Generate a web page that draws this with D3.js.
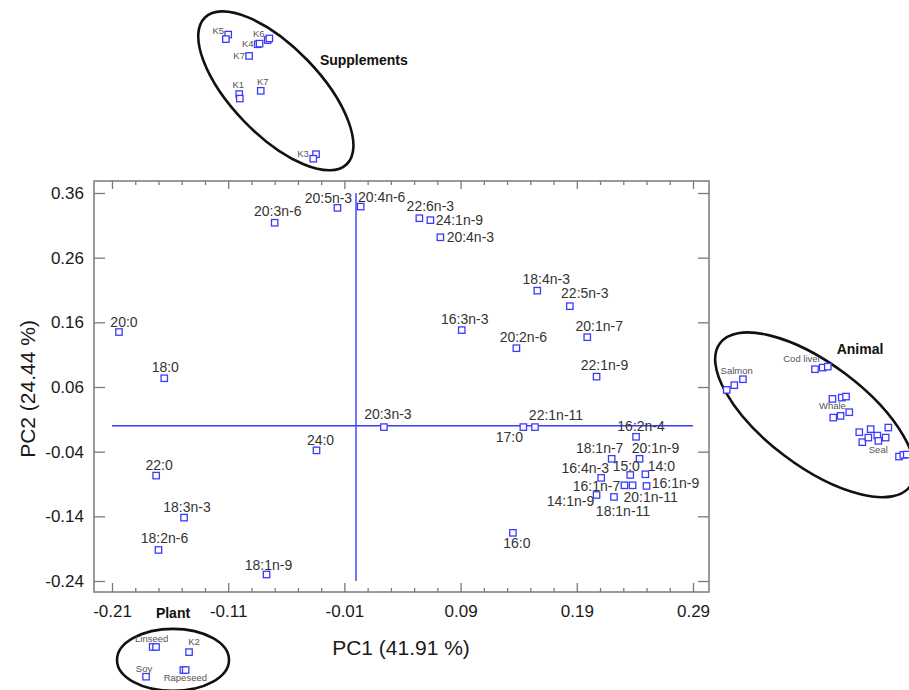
<!DOCTYPE html>
<html>
<head>
<meta charset="utf-8">
<script src="https://cdn.jsdelivr.net/npm/d3@7"></script>
<style>
  body { margin: 0; background: #fff; }
  svg { display: block; font-family: "Liberation Sans", Arial, sans-serif; }
</style>
</head>
<body>
<svg id="chart" width="909" height="690"></svg>
<script>
// fatty acid loadings
var acids = ["20:3n-6","20:5n-3","20:4n-6","20:0","18:0","22:6n-3","24:1n-9","20:4n-3","18:4n-3","22:5n-3",
  "16:3n-3","20:2n-6","20:1n-7","22:1n-9","20:3n-3","24:0","22:0","18:3n-3","18:2n-6","18:1n-9",
  "17:0","22:1n-11","16:2n-4","18:1n-7","20:1n-9","16:4n-3","15:0","14:0","16:1n-7","20:1n-11",
  "16:1n-9","14:1n-9","18:1n-11","16:0"];
var acidPC1 = [-0.070,-0.016,0.004,-0.204,-0.165,0.0545,0.064,0.0726,0.156,0.184,
  0.091,0.138,0.199,0.207,0.024,-0.034,-0.172,-0.148,-0.170,-0.077,
  0.144,0.154,0.241,0.220,0.244,0.211,0.236,0.249,0.231,0.238,
  0.250,0.207,0.222,0.135];
var acidPC2 = [0.314,0.337,0.339,0.145,0.0735,0.321,0.318,0.2915,0.209,0.185,
  0.148,0.120,0.137,0.076,-0.002,-0.038,-0.077,-0.142,-0.192,-0.230,
  -0.002,-0.002,-0.017,-0.051,-0.051,-0.0805,-0.076,-0.075,-0.092,-0.092,
  -0.093,-0.107,-0.110,-0.1655];

// sample scores (oils), same axes
var suppNames = ["K5","K5","K6","K6","K4","K4","K7","K1","K1","K7b","K3","K3"];
var suppPC1 = [-0.110,-0.112,-0.076,-0.0746,-0.0846,-0.083,-0.092,-0.1005,-0.100,-0.082,-0.0344,-0.0368];
var suppPC2 = [0.605,0.598,0.5965,0.599,0.590,0.591,0.572,0.513,0.506,0.518,0.420,0.413];

var animalNames = ["Salmon","Salmon","Salmon","Cod liver","Cod liver","Cod liver",
  "Whale","Whale","Whale","Whale","Whale","Whale",
  "Seal","Seal","Seal","Seal","Seal","Seal","Seal","Seal","Seal","Seal","Seal"];
var animalPC1 = [0.319,0.3255,0.333,0.395,0.4016,0.406,
  0.410,0.418,0.4217,0.4245,0.417,0.4107,
  0.4331,0.4429,0.4581,0.4357,0.4409,0.4486,0.4495,0.4558,0.4673,0.471,0.4739];
var animalPC2 = [0.0555,0.0628,0.072,0.0875,0.090,0.0915,
  0.0416,0.0436,0.0452,0.021,0.0153,0.0127,
  -0.0099,-0.0052,-0.0027,-0.0253,-0.0182,-0.0151,-0.0233,-0.0182,-0.0476,-0.045,-0.0445];

var plantNames = ["Linseed","Linseed","K2","Soy","Rapeseed","Rapeseed"];
var plantPC1 = [-0.175,-0.1721,-0.1437,-0.1807,-0.1486,-0.1466];
var plantPC2 = [-0.342,-0.342,-0.350,-0.388,-0.3777,-0.3777];

var groupTitles = ["Supplements","Animal","Plant"];
var groupCx = [-0.069,0.395,-0.1575];
var groupCy = [0.518,0.017,-0.362];

var xTicks = [-0.21,-0.11,-0.01,0.09,0.19,0.29];
var yTicks = [0.36,0.26,0.16,0.06,-0.04,-0.14,-0.24];

// ---- layout
var svg = d3.select("#chart");
var frame = {left: 94, top: 181, right: 709, bottom: 592};
var x = d3.scaleLinear().domain([-0.21, 0.29]).range([112, 693]);
var y = d3.scaleLinear().domain([-0.24, 0.36]).range([581, 193]);
var blue = "#3a3aff";
var tickColor = "#7a7a7a";
var fmt = function (d) { return d3.format(".2f")(d).replace("−", "-"); };

// label offsets [dx, dy] from the marker centre
var labelOffset = {
  "20:3n-6":[3,-7], "20:5n-3":[-9,-5], "20:4n-6":[21,-5], "20:0":[5,-5], "18:0":[1,-6],
  "22:6n-3":[11,-7], "24:1n-9":[29,5], "20:4n-3":[30,5], "18:4n-3":[9,-7], "22:5n-3":[15,-8],
  "16:3n-3":[3,-6], "20:2n-6":[7,-6], "20:1n-7":[12,-6], "22:1n-9":[8,-7], "20:3n-3":[4,-8],
  "24:0":[4,-5], "22:0":[3,-6], "18:3n-3":[3,-6], "18:2n-6":[6,-7], "18:1n-9":[2,-5],
  "17:0":[-14,15], "22:1n-11":[21,-7], "16:2n-4":[5,-6], "18:1n-7":[-12,-6], "20:1n-9":[16,-6],
  "16:4n-3":[-16,-5], "15:0":[-4,-4], "14:0":[16,-3], "16:1n-7":[-28,6], "20:1n-11":[18,17],
  "16:1n-9":[29,2], "14:1n-9":[-26,11], "18:1n-11":[9,19], "16:0":[4,15]
};
var sampleOffset = {
  "K5":[-10,-1], "K6":[-9,-3], "K4":[-10,3], "K7":[-10,3], "K1":[-1,-6], "K7b":[2,-6], "K3":[-13,3],
  "Salmon":[10,-16], "Cod liver":[-13,-7], "Whale":[0,10], "Seal":[19,21],
  "Linseed":[-1,-5], "K2":[5,-7], "Soy":[-2,-5], "Rapeseed":[2,11]
};
// ellipse shapes in px: [rx, ry, rotation], title offset from centre
var groupShape = [[102, 44, 46], [119, 51, 37], [56, 31, 0]];
var titleOffset = [[88, -26], [45, -61], [0, -42]];

// ---- frame and axes
svg.append("rect")
  .attr("x", frame.left).attr("y", frame.top)
  .attr("width", frame.right - frame.left).attr("height", frame.bottom - frame.top)
  .attr("fill", "none").attr("stroke", tickColor).attr("stroke-width", 1.5);

var minorX = d3.range(-0.21, 0.2901, 0.02).filter(function (v) {
  return xTicks.every(function (t) { return Math.abs(t - v) > 1e-6; });
});

svg.append("g").attr("transform", "translate(0," + frame.bottom + ")")
  .call(d3.axisBottom(x).tickValues(xTicks).tickSize(-9).tickPadding(13).tickFormat(fmt));
svg.append("g").attr("transform", "translate(0," + frame.bottom + ")")
  .call(d3.axisBottom(x).tickValues(minorX).tickSize(-4).tickFormat(""));
svg.append("g").attr("transform", "translate(0," + frame.top + ")")
  .call(d3.axisTop(x).tickValues(xTicks).tickSize(-8).tickFormat(""));
svg.append("g").attr("transform", "translate(0," + frame.top + ")")
  .call(d3.axisTop(x).tickValues(minorX).tickSize(-4).tickFormat(""));
svg.append("g").attr("transform", "translate(" + frame.left + ",0)")
  .call(d3.axisLeft(y).tickValues(yTicks).tickSize(-11).tickPadding(10).tickFormat(fmt));
svg.append("g").attr("transform", "translate(" + frame.right + ",0)")
  .call(d3.axisRight(y).tickValues(yTicks).tickSize(-11).tickFormat(""));

svg.selectAll(".domain").remove();
svg.selectAll(".tick line").attr("stroke", tickColor).attr("stroke-width", 1.3);
svg.selectAll(".tick text")
  .attr("fill", "#1a1a1a").style("font-size", "17px")
  .style("font-family", "'Liberation Sans', Arial, sans-serif");

svg.append("text")
  .attr("x", 401).attr("y", 655).attr("text-anchor", "middle")
  .attr("fill", "#1a1a1a").style("font-size", "21px")
  .text("PC1 (41.91 %)");
svg.append("text")
  .attr("transform", "translate(35,389) rotate(-90)").attr("text-anchor", "middle")
  .attr("fill", "#1a1a1a").style("font-size", "21px")
  .text("PC2 (24.44 %)");

// ---- zero lines
svg.append("line")
  .attr("x1", x(0)).attr("x2", x(0)).attr("y1", y(0.36)).attr("y2", y(-0.24))
  .attr("stroke", blue).attr("stroke-width", 1.4);
svg.append("line")
  .attr("x1", x(-0.21)).attr("x2", x(0.29)).attr("y1", y(0)).attr("y2", y(0))
  .attr("stroke", blue).attr("stroke-width", 1.4);

// ---- group ellipses
groupTitles.forEach(function (t, i) {
  var cx = x(groupCx[i]), cy = y(groupCy[i]);
  svg.append("ellipse")
    .attr("transform", "translate(" + cx + "," + cy + ") rotate(" + groupShape[i][2] + ")")
    .attr("rx", groupShape[i][0]).attr("ry", groupShape[i][1])
    .attr("fill", "none").attr("stroke", "#111").attr("stroke-width", 2.6);
  svg.append("text")
    .attr("x", cx + titleOffset[i][0]).attr("y", cy + titleOffset[i][1])
    .attr("text-anchor", "middle").attr("fill", "#111")
    .style("font-size", "14px").style("font-weight", "bold")
    .text(t);
});

// ---- markers
var square = function (sel) {
  sel.append("rect")
    .attr("x", function (d) { return x(d.pc1) - 3.2; })
    .attr("y", function (d) { return y(d.pc2) - 3.2; })
    .attr("width", 6.4).attr("height", 6.4)
    .attr("fill", "#fff").attr("stroke", blue).attr("stroke-width", 1.3);
};

var acidData = acids.map(function (n, i) { return {name: n, pc1: acidPC1[i], pc2: acidPC2[i]}; });
var samples = [];
[[suppNames, suppPC1, suppPC2], [animalNames, animalPC1, animalPC2], [plantNames, plantPC1, plantPC2]]
  .forEach(function (g) {
    g[0].forEach(function (n, i) {
      samples.push({name: n, pc1: g[1][i], pc2: g[2][i], first: i === 0 || g[0][i - 1] !== n});
    });
  });

svg.append("g").selectAll("g").data(samples).enter().append("g").call(square);
svg.append("g").selectAll("text").data(samples.filter(function (d) { return d.first; }))
  .enter().append("text")
  .attr("x", function (d) { return x(d.pc1) + sampleOffset[d.name][0]; })
  .attr("y", function (d) { return y(d.pc2) + sampleOffset[d.name][1]; })
  .attr("text-anchor", "middle").attr("fill", "#555")
  .style("font-size", "9.5px")
  .text(function (d) { return d.name.replace("K7b", "K7"); });

svg.append("g").selectAll("g").data(acidData).enter().append("g").call(square);
svg.append("g").selectAll("text").data(acidData).enter().append("text")
  .attr("x", function (d) { return x(d.pc1) + labelOffset[d.name][0]; })
  .attr("y", function (d) { return y(d.pc2) + labelOffset[d.name][1]; })
  .attr("text-anchor", "middle").attr("fill", "#333")
  .style("font-size", "14px")
  .text(function (d) { return d.name; });
</script>
</body>
</html>
